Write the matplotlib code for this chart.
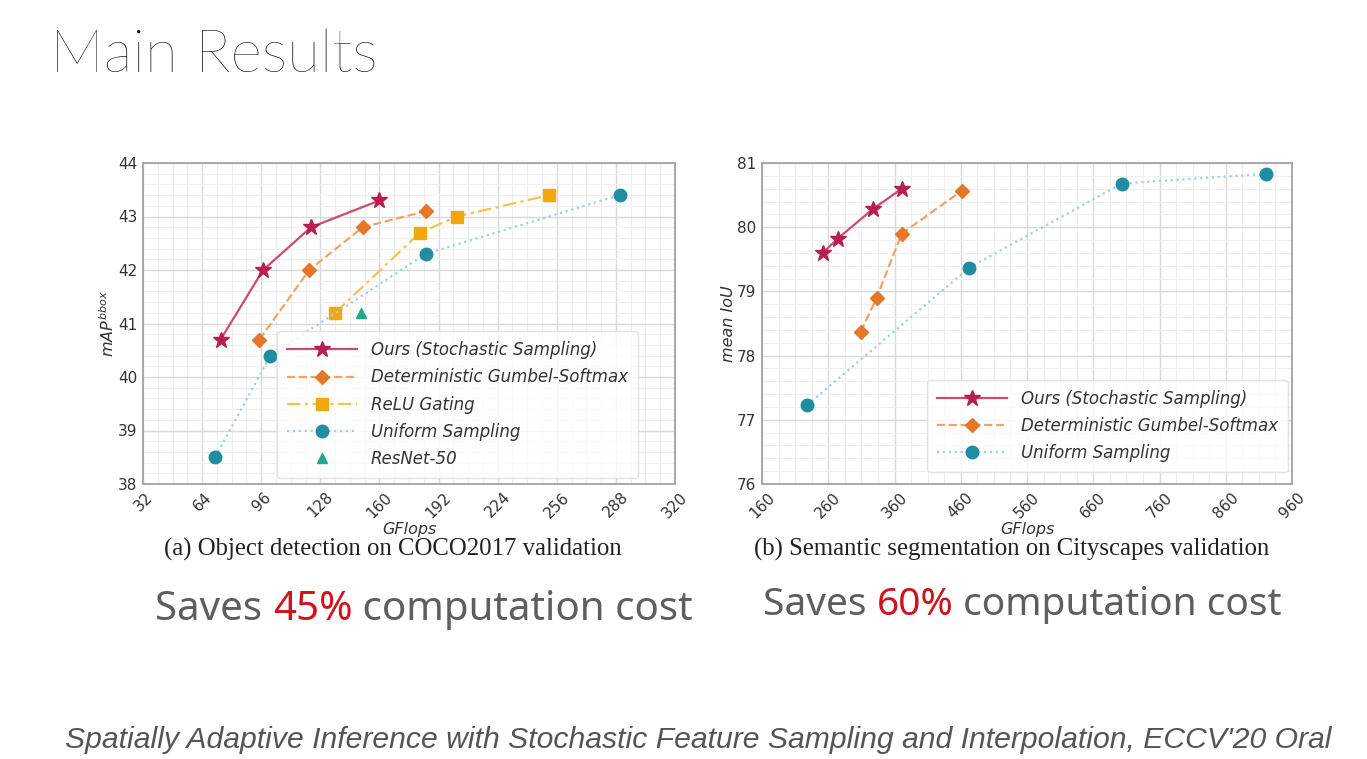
import matplotlib
matplotlib.use('Agg')
import matplotlib.pyplot as plt
from matplotlib.ticker import MultipleLocator, AutoMinorLocator

# ---- (a) detection on COCO2017 ----
det_ours_x = [74, 97, 123, 160]
det_ours_y = [40.7, 42.0, 42.8, 43.3]
det_gumbel_x = [95, 122, 151, 185]
det_gumbel_y = [40.7, 42.0, 42.8, 43.1]
det_relu_x = [136, 182, 202, 252]
det_relu_y = [41.2, 42.7, 43.0, 43.4]
det_uniform_x = [71, 101, 185, 290]
det_uniform_y = [38.5, 40.4, 42.3, 43.4]
det_resnet_x = [150]
det_resnet_y = [41.2]

# ---- (b) segmentation on Cityscapes ----
seg_ours_x = [252, 274, 327, 371]
seg_ours_y = [79.6, 79.82, 80.28, 80.6]
seg_gumbel_x = [309, 333, 371, 462]
seg_gumbel_y = [78.37, 78.9, 79.9, 80.57]
seg_uniform_x = [228, 473, 703, 920]
seg_uniform_y = [77.23, 79.37, 80.68, 80.83]

det_xticks = [32, 64, 96, 128, 160, 192, 224, 256, 288, 320]
seg_xticks = [160, 260, 360, 460, 560, 660, 760, 860, 960]

RED_L, RED_M = '#cc4a72', '#b81e50'
ORG_L, ORG_M = '#f0a468', '#e5772a'
YEL_L, YEL_M = '#f5c44a', '#f0a80c'
BLU_L, BLU_M = '#9fcfe0', '#1f8ea2'
GRN = '#20a88e'

W, H = 1367, 759
fig = plt.figure(figsize=(W / 100, H / 100), dpi=100)
fig.patch.set_facecolor('white')


def style_axes(ax, xticks, ylim, ylabel):
    ax.set_xlim(xticks[0], xticks[-1])
    ax.set_ylim(*ylim)
    ax.set_xticks(xticks)
    ax.yaxis.set_major_locator(MultipleLocator(1))
    ax.xaxis.set_minor_locator(AutoMinorLocator(4))
    ax.yaxis.set_minor_locator(AutoMinorLocator(5))
    ax.grid(which='major', color='#d9d9d9', lw=1.0)
    ax.grid(which='minor', color='#efefef', lw=0.8)
    ax.set_axisbelow(True)
    for s in ax.spines.values():
        s.set_color('#a8a8a8')
        s.set_linewidth(1.4)
    ax.tick_params(which='both', length=0, labelsize=11, labelcolor='#333333', pad=4)
    for lab in ax.get_xticklabels():
        lab.set_rotation(45)
    ax.set_xlabel('GFlops', fontsize=11.5, style='italic', color='#333333', labelpad=1)
    ax.set_ylabel(ylabel, fontsize=11.5, style='italic', color='#333333', labelpad=1)


def series(ax, x, y, lc, mc, ls, marker, ms, label):
    ax.plot(x, y, color=lc, ls=ls, lw=1.6, marker=marker, ms=ms,
            markerfacecolor=mc, markeredgecolor=mc, label=label)


def legend(ax, anchor):
    leg = ax.legend(loc='lower right', prop={'style': 'italic', 'size': 12}, frameon=True,
                    handlelength=4.2, borderpad=0.6, labelspacing=0.55,
                    borderaxespad=0, bbox_to_anchor=anchor)
    leg.get_frame().set_edgecolor('#dddddd')
    for t in leg.get_texts():
        t.set_color('#333333')


ax1 = fig.add_axes([143 / W, 1 - 484 / H, 532 / W, 321 / H])
series(ax1, det_ours_x, det_ours_y, RED_L, RED_M, '-', '*', 12, 'Ours (Stochastic Sampling)')
series(ax1, det_gumbel_x, det_gumbel_y, ORG_L, ORG_M, '--', 'D', 7.5, 'Deterministic Gumbel-Softmax')
series(ax1, det_relu_x, det_relu_y, YEL_L, YEL_M, (0, (6, 2, 1.5, 2)), 's', 9, 'ReLU Gating')
series(ax1, det_uniform_x, det_uniform_y, BLU_L, BLU_M, ':', 'o', 9, 'Uniform Sampling')
ax1.plot(det_resnet_x, det_resnet_y, ls='none', marker='^', ms=7, color=GRN, label='ResNet-50')
style_axes(ax1, det_xticks, (38, 44), r'$mAP^{bbox}$')
legend(ax1, (0.93, 0.019))

ax2 = fig.add_axes([762 / W, 1 - 484 / H, 530 / W, 321 / H])
series(ax2, seg_ours_x, seg_ours_y, RED_L, RED_M, '-', '*', 12, 'Ours (Stochastic Sampling)')
series(ax2, seg_gumbel_x, seg_gumbel_y, ORG_L, ORG_M, '--', 'D', 7.5, 'Deterministic Gumbel-Softmax')
series(ax2, seg_uniform_x, seg_uniform_y, BLU_L, BLU_M, ':', 'o', 9, 'Uniform Sampling')
style_axes(ax2, seg_xticks, (76, 81), 'mean IoU')
legend(ax2, (0.992, 0.037))

# ---- slide texts ----
fig.text(50 / W, 1 - 72 / H, 'Main Results', fontsize=43.5, fontweight='light',
         family=['Lato', 'Noto Sans'], color='#000000', va='baseline', ha='left')

fig.text(393 / W, 1 - 549 / H, '(a) Object detection on COCO2017 validation',
         fontsize=17.8, family='Liberation Serif', color='#222222', ha='center', va='center')
fig.text(1012 / W, 1 - 549 / H, '(b) Semantic segmentation on Cityscapes validation',
         fontsize=17.8, family='Liberation Serif', color='#222222', ha='center', va='center')

renderer = fig.canvas.get_renderer()


def saves_line(x0, y0, pct, size):
    parts = [('Saves ', '#5e5e5e'), (pct, '#d0121b'), (' computation cost', '#5e5e5e')]
    x = x0
    for s, c in parts:
        t = fig.text(x / W, 1 - y0 / H, s, fontsize=size, family='Noto Sans', color=c,
                     va='baseline', ha='left')
        x += t.get_window_extent(renderer).width


saves_line(155, 620, '45%', 29)
saves_line(763, 615, '60%', 28)

fig.text(65 / W, 1 - 748 / H,
         "Spatially Adaptive Inference with Stochastic Feature Sampling and Interpolation, ECCV'20 Oral",
         fontsize=21.7, style='italic', family='Liberation Sans', color='#555555',
         va='baseline', ha='left')

fig.savefig('out.png', dpi=100, facecolor='white')
